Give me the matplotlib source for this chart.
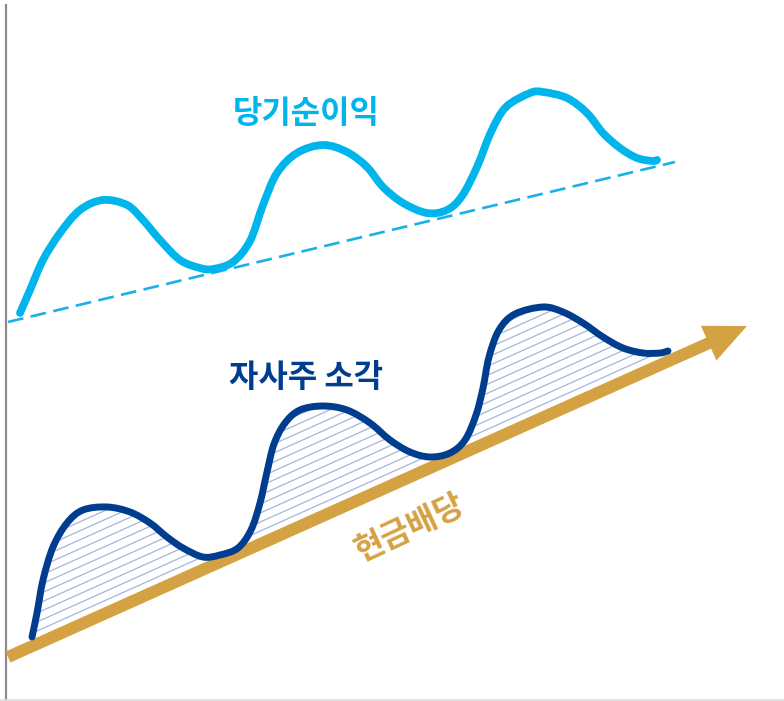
import numpy as np
import matplotlib
matplotlib.use("Agg")
import matplotlib.pyplot as plt
from matplotlib.patches import FancyArrow, PathPatch
from matplotlib.path import Path
from matplotlib.collections import LineCollection

plt.rcParams['font.family'] = ['Noto Sans CJK KR', 'DejaVu Sans']

# 당기순이익 곡선 (픽셀 좌표)
net_x = [20, 30, 43, 60, 80, 103, 127, 143, 160, 180, 200, 213, 233, 250, 263, 277, 297,
         323, 347, 367, 383, 403, 427, 447, 462, 477, 491, 506, 530, 543, 567, 587, 603,
         620, 637, 653, 657]
net_y = [313, 290, 260, 233, 210, 200, 205, 220, 240, 260, 268, 269, 262, 241, 205, 173, 153,
         145, 152, 167, 187, 203, 213, 210, 196, 167, 132, 107, 93, 92, 98, 113, 133,
         148, 158, 161, 160]

# 당기순이익 추세선
trend_x = [8, 675]
trend_y = [322, 162]

# 자사주 소각 곡선
buy_x = [32, 37, 43, 53, 67, 83, 107, 130, 150, 167, 183, 203, 220, 238, 251, 260, 267, 274,
         285, 300, 323, 347, 370, 390, 410, 430, 450, 465, 476, 483, 489, 499, 515, 543,
         563, 583, 603, 623, 643, 660, 668]
buy_y = [637, 613, 580, 547, 523, 510, 507, 512, 523, 537, 548, 557, 555, 548, 530, 503, 472, 444,
         423, 410, 406, 410, 423, 440, 452, 457, 453, 440, 415, 388, 357, 330, 314, 307,
         312, 323, 337, 348, 353, 353, 351]

# 현금배당 화살표
div_start = (8, 657)
div_tip = (747, 326)


def smooth_path(xs, ys):
    # 점들을 지나가는 베지어 경로
    p = np.column_stack([xs, ys]).astype(float)
    verts = [p[0]]
    codes = [Path.MOVETO]
    n = len(p)
    for i in range(n - 1):
        p0 = p[max(i - 1, 0)]
        p1 = p[i]
        p2 = p[i + 1]
        p3 = p[min(i + 2, n - 1)]
        verts += [p1 + (p2 - p0) / 6, p2 - (p3 - p1) / 6, p2]
        codes += [Path.CURVE4] * 3
    return Path(verts, codes)


fig = plt.figure(figsize=(7.84, 7.01), dpi=100)
ax = fig.add_axes([0, 0, 1, 1])
ax.set_xlim(0, 784)
ax.set_ylim(701, 0)
ax.axis('off')

# 왼쪽 축선, 아래 테두리
ax.plot([6, 6], [5, 700], color='#8c8c8c', lw=1.6)
ax.plot([0, 784], [699.5, 699.5], color='#dcdcdc', lw=1.2)

# 화살표
dx = div_tip[0] - div_start[0]
dy = div_tip[1] - div_start[1]
slope = dy / dx
arrow = FancyArrow(div_start[0], div_start[1], dx, dy, width=12, head_width=38,
                   head_length=42, length_includes_head=True, color='#d4a243', lw=0, zorder=3)
ax.add_patch(arrow)

# 빗금 영역 (곡선과 화살표 사이)
bx = np.array(buy_x)
by = np.array(buy_y)
line_top = div_start[1] + slope * (bx - div_start[0]) - 5
fill = ax.fill_between(bx, by, line_top, facecolor='none', edgecolor='none')
clip = fill.get_paths()[0]
segs = []
for off in np.arange(-400, 0, 9):
    segs.append([(0, div_start[1] + slope * (0 - div_start[0]) + off),
                 (784, div_start[1] + slope * (784 - div_start[0]) + off)])
hatch = LineCollection(segs, colors='#a3b6dc', linewidths=0.9, zorder=2)
ax.add_collection(hatch)
hatch.set_clip_path(clip, ax.transData)

# 곡선들
ax.plot(trend_x, trend_y, color='#1cb0e8', lw=1.9, dashes=(6, 2.8), zorder=2)
ax.add_patch(PathPatch(smooth_path(net_x, net_y), facecolor='none', edgecolor='#00b5ec',
                       lw=5.6, capstyle='round', joinstyle='round', zorder=4))
ax.add_patch(PathPatch(smooth_path(buy_x, buy_y), facecolor='none', edgecolor='#003d8f',
                       lw=5.0, capstyle='round', joinstyle='round', zorder=4))

# 라벨
ax.text(306, 114, '당기순이익', color='#00b5ec', fontsize=23, fontweight='bold',
        ha='center', va='center')
ax.text(306, 378, '자사주 소각', color='#003d8f', fontsize=23, fontweight='bold',
        ha='center', va='center')
ax.text(410, 528, '현금배당', color='#d4a243', fontsize=23, fontweight='bold',
        ha='center', va='center', rotation=25, rotation_mode='anchor')

fig.savefig('out.png', dpi=100)
